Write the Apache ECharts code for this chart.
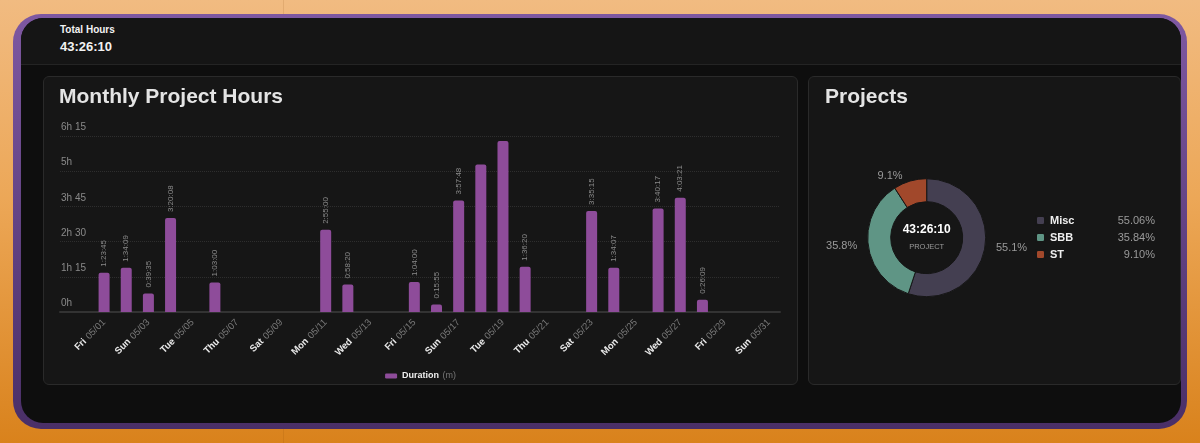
<!DOCTYPE html>
<html>
<head>
<meta charset="utf-8">
<script src="https://cdn.jsdelivr.net/npm/echarts@6/dist/echarts.min.js"></script>
<style>
  html, body { margin: 0; padding: 0; }
  body {
    width: 1200px; height: 443px; overflow: hidden; position: relative;
    background: linear-gradient(180deg, #f1bb81 0%, #eca757 45%, #d9821c 100%);
    font-family: "Liberation Sans", Arial, sans-serif;
  }
  .divider { position: absolute; left: 283px; top: 0; width: 1px; height: 443px; background: rgba(120, 60, 0, 0.12); }
  .frame {
    position: absolute; left: 13px; top: 14px; width: 1174px; height: 415px; border-radius: 28px;
    background: linear-gradient(180deg, #7e58a1 0%, #634384 50%, #4a2f67 100%);
  }
  .inner {
    position: absolute; left: 8px; top: 4px; width: 1160px; height: 405px;
    border-radius: 22px; background: #0e0e0e; overflow: hidden;
  }
  .header {
    position: absolute; left: 0; top: 0; width: 100%; height: 46px;
    background: #151515; border-bottom: 1px solid #242424;
  }
  .total-label { position: absolute; left: 39px; top: 6px; font-size: 10px; font-weight: bold; color: #f2f2f2; }
  .total-value { position: absolute; left: 39px; top: 21px; font-size: 13px; font-weight: bold; color: #f2f2f2; }
  .card {
    position: absolute; top: 58px; height: 307px;
    background: #161616; border: 1px solid #2a2a2a; border-radius: 6px;
  }
  #card1 { left: 22px; width: 753px; }
  #card2 { left: 787px; width: 371px; }
  .card h2 {
    position: absolute; top: 7px; margin: 0; z-index: 2;
    font-size: 21px; line-height: 24px; font-weight: bold; color: #e4e4e4;
  }
  #card1 h2 { left: 15px; }
  #card2 h2 { left: 16px; }
  .chart { position: absolute; left: 0; top: 0; width: 100%; height: 100%; }
</style>
</head>
<body>
<div class="divider"></div>
<div class="frame">
  <div class="inner">
    <div class="header">
      <div class="total-label">Total Hours</div>
      <div class="total-value">43:26:10</div>
    </div>
    <div class="card" id="card1">
      <h2>Monthly Project Hours</h2>
      <div class="chart" id="barChart"></div>
    </div>
    <div class="card" id="card2">
      <h2>Projects</h2>
      <div class="chart" id="pieChart"></div>
    </div>
  </div>
</div>

<script>
// days of the month
const dayNames = ['Fri','Sat','Sun','Mon','Tue','Wed','Thu','Fri','Sat','Sun','Mon','Tue','Wed','Thu','Fri','Sat',
  'Sun','Mon','Tue','Wed','Thu','Fri','Sat','Sun','Mon','Tue','Wed','Thu','Fri','Sat','Sun'];
const dates = ['05/01','05/02','05/03','05/04','05/05','05/06','05/07','05/08','05/09','05/10','05/11','05/12',
  '05/13','05/14','05/15','05/16','05/17','05/18','05/19','05/20','05/21','05/22','05/23','05/24','05/25',
  '05/26','05/27','05/28','05/29','05/30','05/31'];
// tracked time per day, in seconds
const durationSec = [5025, 5649, 2375, 12008, 0, 3780, 0, 0, 0, 0, 10500, 3500, 0, 0, 3840, 955,
  14268, 18870, 21871, 5780, 0, 0, 12915, 5647, 0, 13217, 14601, 1569, 0, 0, 0];

// projects donut
const projects = ['Misc', 'SBB', 'ST'];
const projectSec = [86097, 56043, 14230];
const projectColors = ['#443f51', '#5f9585', '#a1482b'];

const totalText = '43:26:10';

function hms(s) {
  const h = Math.floor(s / 3600);
  const m = Math.floor((s % 3600) / 60);
  const sec = s % 60;
  return h + ':' + String(m).padStart(2, '0') + ':' + String(sec).padStart(2, '0');
}

const categories = dayNames.map((d, i) => d + ' ' + dates[i]);
const durationMin = durationSec.map(s => s / 60);

const barChart = echarts.init(document.getElementById('barChart'));
barChart.setOption({
  animation: false,
  grid: [
    { left: 16, right: 17, top: 59, bottom: 72 },
    { left: 49, right: 17, top: 59, bottom: 72 }
  ],
  legend: {
    data: ['Duration'],
    left: 'center',
    top: 288,
    icon: 'roundRect',
    itemWidth: 12,
    itemHeight: 5,
    formatter: n => '{b|' + n + '} {u|(m)}',
    textStyle: {
      rich: {
        b: { color: '#eeeeee', fontWeight: 'bold', fontSize: 9 },
        u: { color: '#777777', fontSize: 9 }
      }
    }
  },
  xAxis: [
    {
      gridIndex: 0, type: 'value', min: 0, max: 1,
      axisLine: { show: true, lineStyle: { color: '#333333', width: 2 } },
      axisTick: { show: false }, axisLabel: { show: false }, splitLine: { show: false }
    },
    {
      gridIndex: 1, type: 'category', data: categories,
      axisLine: { show: false }, axisTick: { show: false },
      axisLabel: {
        interval: 1,
        rotate: 45,
        margin: 9,
        formatter: v => {
          const p = v.split(' ');
          return '{d|' + p[0] + '} {m|' + p[1] + '}';
        },
        rich: {
          d: { color: '#e8e8e8', fontWeight: 'bold', fontSize: 9.5 },
          m: { color: '#7a7a7a', fontSize: 9.5 }
        }
      }
    }
  ],
  yAxis: [
    {
      gridIndex: 0, type: 'value', min: 0, max: 375, interval: 75,
      axisLine: { show: false }, axisTick: { show: false },
      axisLabel: {
        inside: true, margin: 1, verticalAlign: 'bottom',
        color: '#8a8a8a', fontSize: 10, lineHeight: 11, padding: [0, 0, 3, 0],
        formatter: v => {
          const h = Math.floor(v / 60), m = v % 60;
          return m ? h + 'h ' + m : h + 'h';
        }
      },
      splitLine: { lineStyle: { type: 'dotted', color: '#2e2e2e' } }
    },
    { gridIndex: 1, type: 'value', min: 0, max: 375, interval: 75, show: false }
  ],
  series: [{
    name: 'Duration',
    type: 'bar',
    xAxisIndex: 1,
    yAxisIndex: 1,
    barWidth: 11,
    itemStyle: { color: '#8e4c9a', borderRadius: [2, 2, 0, 0] },
    label: {
      position: 'top', rotate: 90, distance: 6, align: 'left', verticalAlign: 'middle',
      color: '#8a8a8a', fontSize: 8,
      formatter: p => hms(durationSec[p.dataIndex])
    },
    data: durationMin.map(v => ({ value: v, label: { show: v > 0 && v < 300 } }))
  }]
});

const projectTotal = projectSec.reduce((a, b) => a + b, 0);
const pieChart = echarts.init(document.getElementById('pieChart'));
pieChart.setOption({
  animation: false,
  color: projectColors,
  legend: {
    orient: 'vertical',
    left: 226,
    top: 138,
    padding: 0,
    icon: 'roundRect',
    itemWidth: 9,
    itemHeight: 9,
    itemGap: 6,
    data: projects,
    formatter: n => {
      const i = projects.indexOf(n);
      return '{n|' + n + '}{p|' + (projectSec[i] / projectTotal * 100).toFixed(2) + '%}';
    },
    textStyle: {
      rich: {
        n: { width: 52, color: '#eeeeee', fontWeight: 'bold', fontSize: 11, lineHeight: 11 },
        p: { width: 53, align: 'right', color: '#9a9a9a', fontSize: 11, lineHeight: 11 }
      }
    }
  },
  graphic: [
    {
      type: 'text', x: 117.7, y: 153,
      style: { text: totalText, align: 'center', verticalAlign: 'middle', fill: '#ffffff', fontSize: 12, fontWeight: 'bold', fontFamily: 'Liberation Sans' }
    },
    {
      type: 'text', x: 117.7, y: 170,
      style: { text: 'PROJECT', align: 'center', verticalAlign: 'middle', fill: '#9a9a9a', fontSize: 7.5, fontFamily: 'Liberation Sans' }
    }
  ],
  series: [{
    type: 'pie',
    center: [117.7, 160.7],
    radius: [36, 59],
    startAngle: 90,
    avoidLabelOverlap: false,
    itemStyle: { borderColor: '#161616', borderWidth: 1 },
    label: {
      position: 'outside', color: '#9a9a9a', fontSize: 11,
      formatter: p => p.percent.toFixed(1) + '%'
    },
    labelLine: { show: false, length: 5, length2: 1 },
    data: projects.map((n, i) => ({ name: n, value: projectSec[i] }))
  }]
});
</script>
</body>
</html>
